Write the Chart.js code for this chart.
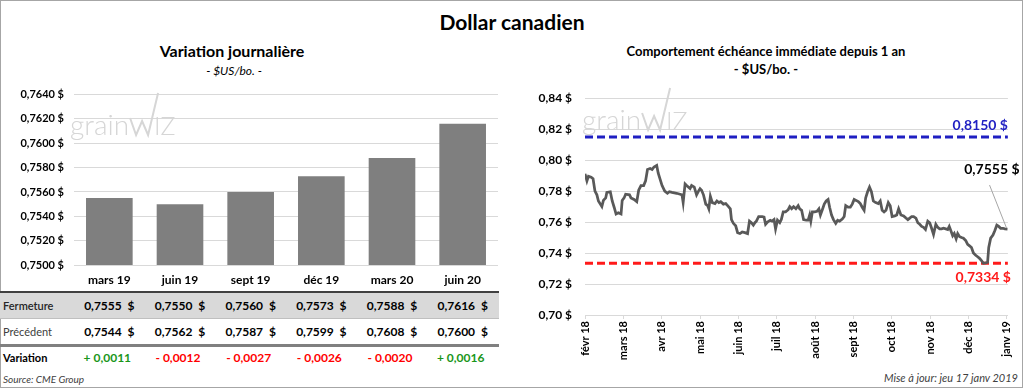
<!DOCTYPE html>
<html lang="fr">
<head>
<meta charset="utf-8">
<script src="https://cdn.jsdelivr.net/npm/chart.js@4.4.0/dist/chart.umd.min.js"></script>
<style>
body{margin:0;background:#fff;font-family:Lato,'Open Sans',sans-serif;color:#000}
#frame{position:absolute;left:0;top:0;width:1023px;height:388px;box-sizing:border-box;border:1px solid #a6a6a6}
.t{position:absolute;white-space:nowrap;line-height:20px;height:20px}
.c{transform:translateX(-50%)}
canvas{position:absolute}
.row{position:absolute;left:0;width:499px}
</style>
</head>
<body>
<div id="frame"></div>
<div class="t c" style="left:512px;top:12px;font-size:21px;font-weight:bold">Dollar canadien</div>
<div class="t c" style="left:232px;top:41px;font-size:16px;font-weight:bold">Variation journalière</div>
<div class="t c" style="left:234px;top:61px;font-size:12px;font-style:italic">- $US/bo. -</div>
<div class="t c" style="left:766px;top:41px;font-size:13px;font-weight:bold">Comportement échéance immédiate depuis 1 an</div>
<div class="t c" style="left:766px;top:59px;font-size:13px;font-weight:bold">- $US/bo. -</div>
<div class="t" style="left:3px;top:369px;font-size:10px;font-style:italic;color:#404040">Source: CME Group</div>
<div class="t" style="right:6px;top:368px;font-size:11px;font-style:italic;color:#404040">Mise à jour: jeu 17 janv 2019</div>

<canvas id="bars" width="505" height="212" style="left:0;top:78px"></canvas>
<canvas id="line" width="510" height="290" style="left:512px;top:78px"></canvas>
<div id="table"></div>

<script>
// contrats (graphique de gauche)
const contracts = ['mars 19', 'juin 19', 'sept 19', 'déc 19', 'mars 20', 'juin 20'];
const closes = [0.7555, 0.7550, 0.7560, 0.7573, 0.7588, 0.7616];
const previous = [0.7544, 0.7562, 0.7587, 0.7599, 0.7608, 0.7600];

// échéance immédiate, position en mois depuis févr 18
const monthLabels = ['févr 18', 'mars 18', 'avr 18', 'mai 18', 'juin 18', 'juil 18',
    'août 18', 'sept 18', 'oct 18', 'nov 18', 'déc 18', 'janv 19'];
const monthPos = [
    0.00, 0.05, 0.09, 0.16, 0.21, 0.26, 0.31, 0.35, 0.44, 0.48, 0.54, 0.57, 0.66, 0.71, 0.76,
    0.81, 0.87, 0.94, 0.97, 1.02, 1.06, 1.16, 1.20, 1.28, 1.35, 1.40, 1.46, 1.53, 1.58, 1.63,
    1.70, 1.75, 1.80, 1.87, 1.91, 1.96, 2.01, 2.08, 2.15, 2.20, 2.27, 2.39, 2.48, 2.53, 2.56,
    2.61, 2.65, 2.74, 2.78, 2.85, 2.91, 2.96, 3.00, 3.04, 3.09, 3.15, 3.20, 3.23, 3.27, 3.32,
    3.39, 3.44, 3.49, 3.54, 3.61, 3.67, 3.72, 3.79, 3.82, 3.87, 3.93, 3.98, 4.04, 4.10, 4.17,
    4.24, 4.29, 4.34, 4.39, 4.43, 4.47, 4.53, 4.62, 4.67, 4.71, 4.76, 4.83, 4.88, 4.93, 4.97,
    5.02, 5.08, 5.12, 5.17, 5.23, 5.30, 5.34, 5.39, 5.44, 5.50, 5.56, 5.60, 5.65, 5.70, 5.77,
    5.82, 5.86, 5.89, 5.93, 5.99, 6.05, 6.10, 6.14, 6.19, 6.24, 6.29, 6.34, 6.38, 6.43, 6.48,
    6.54, 6.59, 6.64, 6.71, 6.76, 6.80, 6.86, 6.92, 6.97, 7.02, 7.07, 7.13, 7.18, 7.23, 7.28,
    7.32, 7.37, 7.42, 7.47, 7.52, 7.58, 7.65, 7.70, 7.75, 7.80, 7.85, 7.91, 7.96, 8.01, 8.08,
    8.13, 8.18, 8.24, 8.31, 8.37, 8.42, 8.47, 8.52, 8.57, 8.63, 8.68, 8.73, 8.78, 8.83, 8.88,
    8.94, 8.99, 9.04, 9.09, 9.15, 9.20, 9.25, 9.30, 9.35, 9.41, 9.46, 9.50, 9.54, 9.59, 9.63,
    9.68, 9.72, 9.77, 9.82, 9.87, 9.93, 9.98, 10.03, 10.08, 10.13, 10.19, 10.24, 10.29, 10.34, 10.39,
    10.45, 10.50, 10.53, 10.58, 10.64, 10.69, 10.74, 10.79, 10.84, 10.90, 10.95, 11.02
];
const nearby = [
    0.7912, 0.7866, 0.7896, 0.7890, 0.7880, 0.7800, 0.7776, 0.7736, 0.7700, 0.7740, 0.7756, 0.7792, 0.7796, 0.7736, 0.7696,
    0.7652, 0.7660, 0.7652, 0.7740, 0.7756, 0.7780, 0.7776, 0.7756, 0.7746, 0.7732, 0.7806, 0.7836, 0.7836, 0.7866, 0.7940,
    0.7946, 0.7940, 0.7956, 0.7966, 0.7916, 0.7876, 0.7836, 0.7800, 0.7786, 0.7796, 0.7792, 0.7786, 0.7780, 0.7776, 0.7726,
    0.7846, 0.7836, 0.7816, 0.7836, 0.7826, 0.7776, 0.7800, 0.7816, 0.7806, 0.7776, 0.7716, 0.7706, 0.7686, 0.7766, 0.7726,
    0.7720, 0.7736, 0.7726, 0.7732, 0.7716, 0.7720, 0.7706, 0.7686, 0.7616, 0.7592, 0.7576, 0.7532, 0.7526, 0.7536, 0.7532,
    0.7526, 0.7606, 0.7596, 0.7580, 0.7596, 0.7606, 0.7636, 0.7636, 0.7632, 0.7586, 0.7600, 0.7612, 0.7606, 0.7616, 0.7556,
    0.7612, 0.7596, 0.7616, 0.7666, 0.7666, 0.7680, 0.7700, 0.7686, 0.7700, 0.7686, 0.7706, 0.7686, 0.7676, 0.7616, 0.7612,
    0.7612, 0.7646, 0.7606, 0.7666, 0.7666, 0.7670, 0.7686, 0.7646, 0.7680, 0.7716, 0.7736, 0.7746, 0.7696, 0.7646, 0.7616,
    0.7592, 0.7612, 0.7606, 0.7620, 0.7636, 0.7706, 0.7696, 0.7696, 0.7716, 0.7746, 0.7740, 0.7732, 0.7720, 0.7696, 0.7676,
    0.7756, 0.7796, 0.7826, 0.7796, 0.7736, 0.7726, 0.7720, 0.7736, 0.7676, 0.7666, 0.7676, 0.7726, 0.7706, 0.7636, 0.7640,
    0.7646, 0.7686, 0.7646, 0.7640, 0.7626, 0.7616, 0.7626, 0.7636, 0.7636, 0.7626, 0.7596, 0.7586, 0.7572, 0.7566, 0.7552,
    0.7606, 0.7596, 0.7560, 0.7520, 0.7586, 0.7566, 0.7556, 0.7556, 0.7560, 0.7556, 0.7552, 0.7572, 0.7546, 0.7512, 0.7526,
    0.7492, 0.7526, 0.7506, 0.7500, 0.7496, 0.7480, 0.7456, 0.7446, 0.7436, 0.7400, 0.7386, 0.7376, 0.7366, 0.7352, 0.7334,
    0.7336, 0.7340, 0.7436, 0.7496, 0.7516, 0.7546, 0.7580, 0.7572, 0.7560, 0.7560, 0.7556, 0.7555
];
const highLevel = 0.8150;
const lowLevel = 0.7334;
const lastValue = 0.7555;
const xEnd = 11.03;

const fr = (v, d) => v.toFixed(d).replace('.', ',');

function drawLogo(ctx, x, y) {
    ctx.save();
    ctx.fillStyle = '#d6d6d6';
    ctx.strokeStyle = '#d6d6d6';
    ctx.font = '300 28px Lato';
    ctx.textBaseline = 'alphabetic';
    ctx.fillText('grain', x, y);
    const x0 = x + ctx.measureText('grain').width + 1;
    ctx.lineWidth = 2;
    ctx.beginPath();
    ctx.moveTo(x0, y - 17);
    ctx.lineTo(x0 + 6, y);
    ctx.lineTo(x0 + 12, y - 14);
    ctx.lineTo(x0 + 18, y);
    ctx.lineTo(x0 + 28, y - 42);
    ctx.stroke();
    ctx.font = '300 25px Lato';
    ctx.fillText('IZ', x0 + 24, y);
    ctx.restore();
}

const logoPlugin = {
    id: 'logo',
    beforeDatasetsDraw(chart, args, opts) {
        drawLogo(chart.ctx, opts.x, opts.y);
    }
};

const labelPlugin = {
    id: 'levels',
    afterDatasetsDraw(chart) {
        const ctx = chart.ctx;
        const xs = chart.scales.x, ys = chart.scales.y;
        const right = chart.chartArea.right;
        ctx.save();
        ctx.font = 'bold 14px Lato';
        ctx.textAlign = 'right';
        ctx.textBaseline = 'middle';
        ctx.fillStyle = '#1f1fc2';
        ctx.fillText(fr(highLevel, 4) + ' $', right, ys.getPixelForValue(highLevel) - 11);
        ctx.fillStyle = '#ff1a1a';
        ctx.fillText(fr(lowLevel, 4) + ' $', right + 3, ys.getPixelForValue(lowLevel) + 14);
        const px = xs.getPixelForValue(monthPos[monthPos.length - 1]);
        const py = ys.getPixelForValue(lastValue);
        ctx.strokeStyle = '#a6a6a6';
        ctx.lineWidth = 1;
        ctx.beginPath();
        ctx.moveTo(px - 18, py - 44);
        ctx.lineTo(px - 1, py - 1);
        ctx.stroke();
        ctx.fillStyle = '#000';
        ctx.fillText(fr(lastValue, 4) + ' $', px + 12, py - 60);
        ctx.restore();
    }
};

Chart.defaults.font.family = 'Lato';
Chart.defaults.color = '#000';

const barChart = new Chart(document.getElementById('bars'), {
    type: 'bar',
    data: {
        labels: contracts,
        datasets: [{
            data: closes,
            backgroundColor: '#7f7f7f',
            barPercentage: 0.66,
            categoryPercentage: 1
        }]
    },
    options: {
        responsive: false,
        animation: false,
        layout: { padding: { top: 9, right: 7, left: 0, bottom: 0 } },
        plugins: {
            legend: { display: false },
            tooltip: { enabled: false },
            logo: { x: 70, y: 57 }
        },
        scales: {
            x: {
                grid: { display: false, drawTicks: false },
                border: { display: false },
                ticks: { padding: 8, font: { size: 12, weight: 'bold' } },
                afterFit: s => { s.height = 25; }
            },
            y: {
                min: 0.75,
                max: 0.764,
                ticks: {
                    stepSize: 0.002,
                    padding: 10,
                    font: { size: 11, weight: 'bold' },
                    callback: v => fr(v, 4) + ' $'
                },
                grid: { color: '#d9d9d9', drawTicks: false },
                border: { display: false },
                afterFit: s => { s.width = 74; }
            }
        }
    },
    plugins: [logoPlugin]
});

new Chart(document.getElementById('line'), {
    type: 'line',
    data: {
        datasets: [
            {
                data: monthPos.map((x, i) => ({ x: x, y: nearby[i] })),
                borderColor: '#595959',
                borderWidth: 2.75,
                pointRadius: 0,
                tension: 0
            },
            {
                data: [{ x: 0, y: highLevel }, { x: xEnd, y: highLevel }],
                borderColor: '#1f1fc2',
                borderDash: [8, 4],
                borderWidth: 3,
                pointRadius: 0
            },
            {
                data: [{ x: 0, y: lowLevel }, { x: xEnd, y: lowLevel }],
                borderColor: '#ff1a1a',
                borderDash: [8, 4],
                borderWidth: 3,
                pointRadius: 0
            }
        ]
    },
    options: {
        responsive: false,
        animation: false,
        layout: { padding: { top: 9, right: 13, left: 0, bottom: 0 } },
        plugins: {
            legend: { display: false },
            tooltip: { enabled: false },
            logo: { x: 70, y: 52 }
        },
        scales: {
            x: {
                type: 'linear',
                min: 0,
                max: xEnd,
                afterBuildTicks: s => { s.ticks = monthLabels.map((_, i) => ({ value: i })); },
                ticks: {
                    autoSkip: false,
                    minRotation: 90,
                    maxRotation: 90,
                    padding: 2,
                    font: { size: 11, weight: 'bold' },
                    callback: (v, i) => monthLabels[i]
                },
                grid: { drawOnChartArea: false, tickLength: 4, color: '#d9d9d9' },
                border: { color: '#d9d9d9' },
                afterFit: s => { s.height = 53; }
            },
            y: {
                min: 0.70,
                max: 0.84,
                ticks: {
                    stepSize: 0.02,
                    padding: 13,
                    font: { size: 12, weight: 'bold' },
                    callback: v => fr(v, 2) + ' $'
                },
                grid: { color: '#d9d9d9', drawTicks: false },
                border: { display: false },
                afterFit: s => { s.width = 73; }
            }
        }
    },
    plugins: [logoPlugin, labelPlugin]
});

// tableau sous le graphique à barres
const table = document.getElementById('table');
function addBox(top, height, style) {
    const d = document.createElement('div');
    d.className = 'row';
    d.style.top = top + 'px';
    d.style.height = height + 'px';
    Object.assign(d.style, style);
    table.appendChild(d);
}
addBox(291, 2, { background: '#404040' });
addBox(293, 25, { background: '#d9d9d9' });
addBox(318, 1, { background: '#bfbfbf' });
addBox(344, 3, { background: '#808080' });

function addText(text, x, yMid, style, centered) {
    const d = document.createElement('div');
    d.className = centered ? 't c' : 't';
    d.textContent = text;
    d.style.left = x + 'px';
    d.style.top = (yMid - 10) + 'px';
    Object.assign(d.style, style);
    table.appendChild(d);
}
const rowMid = [306, 331.5, 358];
addText('Fermeture', 3, rowMid[0], { fontSize: '11px', fontWeight: '600', color: '#262626' });
addText('Précédent', 3, rowMid[1], { fontSize: '11px', color: '#404040' });
addText('Variation', 3, rowMid[2], { fontSize: '11px', fontWeight: 'bold' });
const xs = barChart.scales.x;
contracts.forEach((c, i) => {
    const cx = xs.getPixelForValue(i);
    const bold = { fontSize: '12px', fontWeight: 'bold' };
    addText(fr(closes[i], 4) + '\u00a0\u00a0$', cx, rowMid[0], bold, true);
    addText(fr(previous[i], 4) + '\u00a0\u00a0$', cx, rowMid[1], bold, true);
    const diff = closes[i] - previous[i];
    const txt = (diff >= 0 ? '+ ' : '- ') + fr(Math.abs(diff), 4);
    addText(txt, cx - 2, rowMid[2], { fontSize: '12px', fontWeight: 'bold', color: diff >= 0 ? '#1a961a' : '#ff0000' }, true);
});
</script>
</body>
</html>
